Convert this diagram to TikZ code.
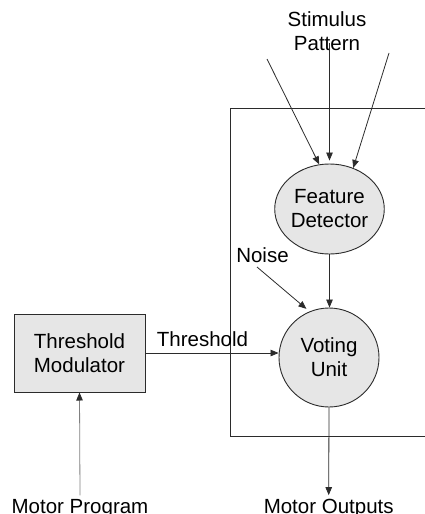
\documentclass[tikz,border=0pt]{standalone}
\usepackage{fontspec}
\setmainfont{Liberation Sans}
\usepackage{xcolor}
\usetikzlibrary{arrows.meta,positioning,calc,shapes.geometric}
\definecolor{unitfill}{HTML}{E6E6E6}
\definecolor{linegray}{HTML}{2B2B2B}
\tikzset{
	unit/.style={ellipse,draw=linegray,line width=0.9pt,fill=unitfill,align=center,inner sep=0pt},
	modbox/.style={rectangle,draw=linegray,line width=1pt,fill=unitfill,align=center,inner sep=0pt},
	sig/.style={-{Triangle[length=8pt,width=6.5pt,color=linegray]},draw=linegray,line width=0.8pt}
}

\begin{document}
\begin{tikzpicture}[x=1pt,y=-1pt,font=\fontsize{20.5}{24}\selectfont]
	\useasboundingbox (0,0) rectangle (425,514);
	
	\draw[line width=1pt,linegray] (426,108) -- (230,108) -- (230,436) -- (426,436);
	
	\node[unit,minimum width=99pt,minimum height=90pt] (feat) at (329.5,209) {Feature\\Detector};
	\node[unit,minimum width=100pt,minimum height=99pt] (vote) at (329,357.5) {Voting\\Unit};
	\node[modbox,minimum width=131pt,minimum height=78pt] (thmod) at (79.5,353) {Threshold\\Modulator};
	
	\node[align=center,inner sep=0pt] (stim) at (327,31.5) {Stimulus\\Pattern};
	\node (noise) at (262.5,254.7) {Noise};
	\node (thlabel) at (202.5,339) {Threshold};
	\node[anchor=base] (mprog) at (80,513) {Motor Program};
	\node[anchor=base] (mout) at (328.7,513) {Motor Outputs};
	
	\coordinate (s1) at (267,59);
	\coordinate (s2) at (329.5,43);
	\coordinate (s3) at (389,53);
	\coordinate (nz) at (257,267);
	
	\draw[sig] (s1) -- (feat.103);
	\draw[sig,shorten >=3pt] (s2) -- (feat.north);
	\draw[sig] (s3) -- (feat.60);
	
	\draw[sig] (feat.south) -- (feat.south |- vote.north);
	\draw[sig,shorten >=4pt] (nz) -- (vote.113);
	\draw[sig] (thmod.east) -- (thmod.east -| vote.west);
	
	\draw[sig,draw=gray] (mprog.north) -- (thmod.south);
	\draw[sig] (vote.south) -- (mout.north);
\end{tikzpicture}
\end{document}
